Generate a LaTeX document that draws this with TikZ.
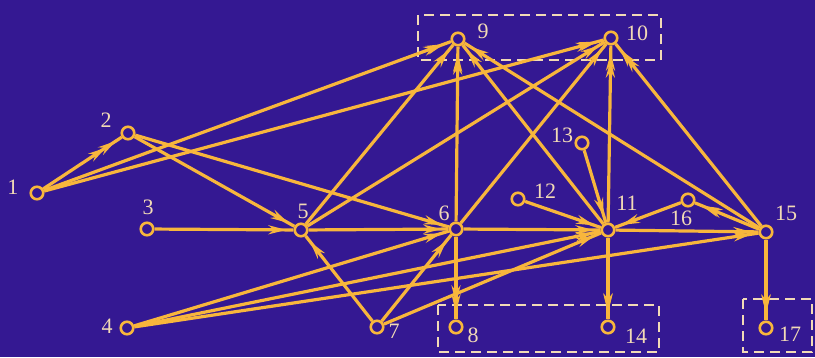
\documentclass[tikz,border=0pt]{standalone}
\usepackage{fontspec}
\setmainfont{Liberation Serif}
\usetikzlibrary{arrows.meta,decorations.markings}
\definecolor{bg}{RGB}{52,24,146}
\definecolor{ln}{RGB}{248,182,60}
\definecolor{tx}{RGB}{242,218,182}
\begin{document}
\begin{tikzpicture}[x=1pt,y=-1pt,
  v/.style={circle,draw=ln,fill=bg,line width=2.6pt,minimum size=12.5pt,inner sep=0pt},
  lab/.style={text=tx,font=\fontsize{22}{25}\selectfont,inner sep=0pt},
  tip/.style={decoration={markings,mark=at position #1 with {\arrow{Stealth[length=18pt,width=9pt]}}}},
  e/.style={draw=ln,line width=3.2pt,postaction={decorate},tip=-7pt},
  grp/.style={draw=tx,line width=2.6pt,dash pattern=on 10pt off 6pt}]
\useasboundingbox (0,0) rectangle (815,357);
\fill[bg] (0,0) rectangle (815,357);
\clip (0,0) rectangle (815,357);
% groups
\draw[grp] (418,15) rectangle (661,60);
\draw[grp] (438,305) rectangle (659,352);
\draw[grp] (743,299) rectangle (812,352);
% vertices
\node[v] (n1) at (37,193) {};
\node[v] (n2) at (128,133) {};
\node[v] (n3) at (147,229) {};
\node[v] (n4) at (127,328) {};
\node[v] (n5) at (301,230) {};
\node[v] (n6) at (456,229) {};
\node[v] (n7) at (377,327) {};
\node[v] (n8) at (456,327) {};
\node[v] (n9) at (458,39) {};
\node[v] (n10) at (611,38) {};
\node[v] (n11) at (608,230) {};
\node[v] (n12) at (518,199) {};
\node[v] (n13) at (582,143) {};
\node[v] (n14) at (608,327) {};
\node[v] (n15) at (766,232) {};
\node[v] (n16) at (688,200) {};
\node[v] (n17) at (766,328) {};
% labels
\node[lab] (l1) at (13,187) {1};
\node[lab] (l2) at (106,120) {2};
\node[lab] (l3) at (148,207) {3};
\node[lab] (l4) at (107,326) {4};
\node[lab] (l5) at (303,211) {5};
\node[lab] (l6) at (444,213) {6};
\node[lab] (l7) at (394,331) {7};
\node[lab] (l8) at (473,335) {8};
\node[lab] (l9) at (483,31) {9};
\node[lab] (l10) at (637,33) {10};
\node[lab] (l11) at (627,203) {11};
\node[lab] (l12) at (545,191) {12};
\node[lab] (l13) at (562,135) {13};
\node[lab] (l14) at (636,336) {14};
\node[lab] (l15) at (786,213) {15};
\node[lab] (l16) at (681,218) {16};
\node[lab] (l17) at (790,334) {17};
% edges
\path[e,tip=0.8] (n1) -- (n2);
\path[e,tip=-10pt] (n1) -- (n9);
\path[e,tip=-10pt] (n1) -- (n10);
\path[e] (n2) -- (n5);
\path[e] (n2) -- (n6);
\path[e] (n3) -- (n5);
\path[e] (n4) -- (n6);
\path[e] (n4) -- (n11);
\path[e] (n4) -- (n15);
\path[e] (n5) -- (n6);
\path[e] (n5) -- (n9);
\path[e] (n5) -- (n10);
\path[e,tip=-10pt] (n6) -- (n9);
\path[e] (n6) -- (n10);
\path[e] (n6) -- (n11);
\path[e,tip=-16pt] (n6) -- (n8);
\path[e] (n7) -- (n5);
\path[e] (n7) -- (n6);
\path[e] (n7) -- (n11);
\path[e] (n11) -- (n9);
\path[e,tip=-14pt] (n11) -- (n10);
\path[e] (n11) -- (n15);
\path[e,tip=-8pt] (n11) -- (n14);
\path[e] (n12) -- (n11);
\path[e] (n13) -- (n11);
\path[e] (n15) -- (n9);
\path[e,tip=-14pt] (n15) -- (n10);
\path[e,tip=-10pt] (n15) -- (n16);
\path[e] (n16) -- (n11);
\path[e,tip=-8pt] (n15) -- (n17);
\end{tikzpicture}
\end{document}
